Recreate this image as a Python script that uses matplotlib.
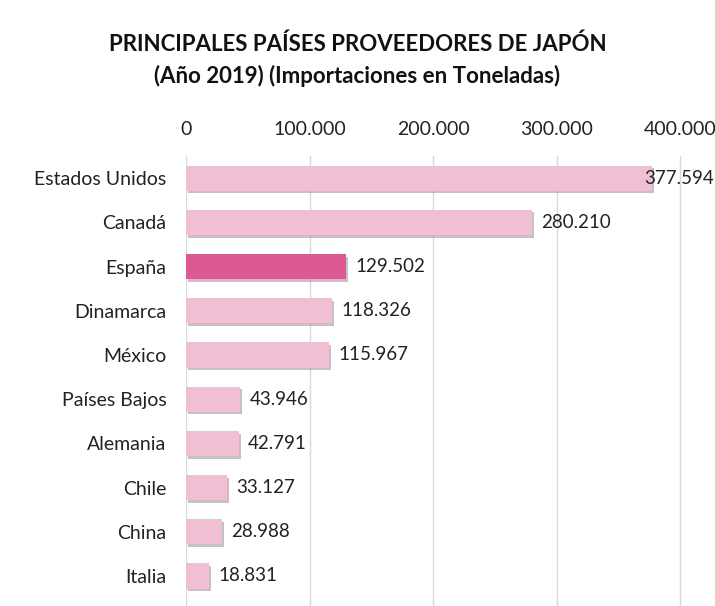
import matplotlib.pyplot as plt
import matplotlib.patheffects as pe

plt.rcParams["font.family"] = ["Lato", "DejaVu Sans"]

paises = ["Estados Unidos", "Canadá", "España", "Dinamarca", "México",
          "Países Bajos", "Alemania", "Chile", "China", "Italia"]
toneladas = [377594, 280210, 129502, 118326, 115967, 43946, 42791, 33127, 28988, 18831]
etiquetas = ["377.594", "280.210", "129.502", "118.326", "115.967",
             "43.946", "42.791", "33.127", "28.988", "18.831"]
ticks = [0, 100000, 200000, 300000, 400000]
tick_labels = ["0", "100.000", "200.000", "300.000", "400.000"]

rosa = "#f1bfd4"
rosa_fuerte = "#dc5a93"
colores = [rosa_fuerte if p == "España" else rosa for p in paises]

xmax = 428300

fig = plt.figure(figsize=(7.15, 6.06), dpi=100)
ax = fig.add_axes([186 / 715, 0, 1 - 186 / 715, (606 - 156) / 606])

y = range(len(paises))
bars = ax.barh(y, toneladas, height=0.57, color=colores, zorder=3)
for b in bars:
    b.set_path_effects([pe.SimplePatchShadow(offset=(1.5, -2), shadow_rgbFace="#888888", alpha=0.5),
                        pe.Normal()])

for i, (v, t) in enumerate(zip(toneladas, etiquetas)):
    if v + 65000 > xmax:
        # no room: label pushed back against the right edge, over the bar end
        ax.text(xmax - 1200, i, t, va="center", ha="right", fontsize=13.5, color="#222222",
                zorder=4, clip_on=False)
    else:
        ax.text(v + 7500, i, t, va="center", ha="left", fontsize=13.5, color="#222222",
                zorder=4, clip_on=False)

ax.set_xlim(0, xmax)
ax.set_ylim(9.68, -0.5)
ax.set_yticks(list(y))
ax.set_yticklabels(paises, fontsize=14, color="#222222")
ax.xaxis.tick_top()
ax.set_xticks(ticks)
ax.set_xticklabels(tick_labels, fontsize=14, color="#222222")
ax.tick_params(length=0, pad=13, axis="x")
ax.tick_params(length=0, pad=14, axis="y")
ax.grid(axis="x", color="#d9d9d9", linewidth=1, zorder=0)
for s in ax.spines.values():
    s.set_visible(False)

fig.text(0.5, 1 - 44 / 606, "PRINCIPALES PAÍSES PROVEEDORES DE JAPÓN", ha="center", va="center",
         fontsize=16, fontweight="bold", color="#111111")
fig.text(0.5, 1 - 76 / 606, "(Año 2019) (Importaciones en Toneladas)", ha="center", va="center",
         fontsize=16, fontweight="bold", color="#111111")

fig.savefig("out.png", dpi=100, facecolor="white")
